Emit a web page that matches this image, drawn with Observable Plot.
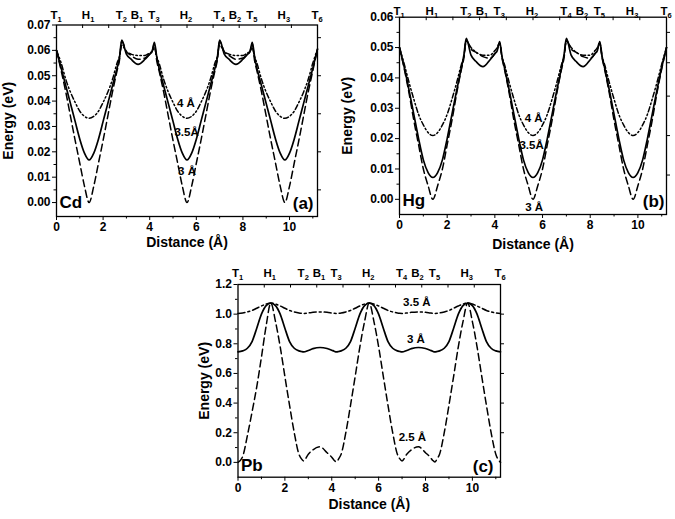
<!DOCTYPE html>
<html><head><meta charset="utf-8">
<script src="https://cdn.jsdelivr.net/npm/d3@7"></script>
<script src="https://cdn.jsdelivr.net/npm/@observablehq/plot@0.6"></script>
<style>
body{margin:0;background:#fff;}
#wrap{position:relative;width:675px;height:519px;overflow:hidden;background:#fff;}
.panel{position:absolute;}
</style></head><body><div id="wrap"></div>
<script>
// ---- data ----
const distance = [0,0.2,0.4,0.6,0.8,1.0,1.2,1.4,1.6,1.8,2.0,2.2,2.4,2.6,2.7,2.8,
  3.0,3.2,3.5,3.8,4.0,4.1,4.2,
  4.3,4.4,4.6,4.8,5.0,5.2,5.4,5.6,5.8,6.0,6.2,6.4,6.6,6.8,6.9,7.0,
  7.2,7.4,7.7,8.0,8.2,8.3,8.4,
  8.5,8.6,8.8,9.0,9.2,9.4,9.6,9.8,10.0,10.2,10.4,10.6,10.8,11.0,11.2];

const sitePos = [0,1.4,2.8,3.5,4.2,5.6,7.0,7.7,8.4,9.8,11.2];
const siteLetter = ["T","H","T","B","T","H","T","B","T","H","T"];
const siteIndex = ["1","1","2","1","3","2","4","2","5","3","6"];
const xTicks = [0,2,4,6,8,10];
const xMinorTicks = [1,3,5,7,9,11];
const topTicks = [1.12,2.24,3.36,4.48,5.6,6.72,7.84,8.96,10.08];

// Cd
const cdTicks = [0,0.01,0.02,0.03,0.04,0.05,0.06,0.07];
const cdMinor = [0.005,0.015,0.025,0.035,0.045,0.055,0.065];
const cdRight = [0.005,0.02,0.035,0.05,0.065];
const cd35 = [.0600,.0530,.0460,.0390,.0320,.0250,.0195,.0168,.0195,.0250,.0320,.0390,.0460,.0530,.0570,.0640,
  .0585,.0565,.0545,.0565,.0585,.0595,.0632,
  .0575,.0530,.0460,.0390,.0320,.0250,.0195,.0168,.0195,.0250,.0320,.0390,.0460,.0530,.0570,.0640,
  .0585,.0565,.0545,.0565,.0585,.0595,.0632,
  .0575,.0530,.0460,.0390,.0320,.0250,.0195,.0168,.0195,.0250,.0320,.0390,.0460,.0530,.0605];
const cd30 = [.0600,.0520,.0435,.0340,.0245,.0155,.0065,.0000,.0065,.0155,.0245,.0340,.0435,.0520,.0560,.0635,
  .0595,.0580,.0565,.0570,.0585,.0595,.0625,
  .0560,.0520,.0435,.0340,.0245,.0155,.0065,.0000,.0065,.0155,.0245,.0340,.0435,.0520,.0560,.0635,
  .0595,.0580,.0565,.0570,.0585,.0595,.0625,
  .0560,.0520,.0435,.0340,.0245,.0155,.0065,.0000,.0065,.0155,.0245,.0340,.0435,.0520,.0605];
const cd40 = [.0600,.0550,.0485,.0435,.0395,.0360,.0340,.0332,.0340,.0360,.0395,.0435,.0485,.0550,.0575,.0620,
  .0595,.0585,.0580,.0580,.0590,.0595,.0610,
  .0575,.0550,.0485,.0435,.0395,.0360,.0340,.0332,.0340,.0360,.0395,.0435,.0485,.0550,.0575,.0620,
  .0595,.0585,.0580,.0580,.0590,.0595,.0610,
  .0575,.0550,.0485,.0435,.0395,.0360,.0340,.0332,.0340,.0360,.0395,.0435,.0485,.0550,.0605];
const cdNoteText = ["4 Å","3.5Å","3 Å"];
const cdNoteX = [5.55,5.58,5.6];
const cdNoteY = [0.0377,0.0262,0.0108];

// Hg
const hgTicks = [0,0.01,0.02,0.03,0.04,0.05,0.06];
const hgMinor = [0.005,0.015,0.025,0.035,0.045,0.055];
const hgRight = [0.008,0.021,0.034,0.045,0.055];
const hg35 = [.0500,.0435,.0360,.0280,.0200,.0130,.0088,.0072,.0088,.0130,.0200,.0280,.0360,.0435,.0475,.0530,
  .0475,.0455,.0437,.0460,.0480,.0490,.0520,
  .0470,.0435,.0360,.0280,.0200,.0130,.0088,.0072,.0088,.0130,.0200,.0280,.0360,.0435,.0475,.0530,
  .0475,.0455,.0437,.0460,.0480,.0490,.0520,
  .0470,.0435,.0360,.0280,.0200,.0130,.0088,.0072,.0088,.0130,.0200,.0280,.0360,.0435,.0500];
const hg30 = [.0500,.0430,.0350,.0260,.0180,.0100,.0045,.0000,.0045,.0100,.0180,.0260,.0350,.0430,.0465,.0525,
  .0495,.0485,.0470,.0465,.0480,.0495,.0515,
  .0465,.0430,.0350,.0260,.0180,.0100,.0045,.0000,.0045,.0100,.0180,.0260,.0350,.0430,.0465,.0525,
  .0495,.0485,.0470,.0465,.0480,.0495,.0515,
  .0465,.0430,.0350,.0260,.0180,.0100,.0045,.0000,.0045,.0100,.0180,.0260,.0350,.0430,.0500];
const hg40 = [.0500,.0445,.0385,.0330,.0280,.0245,.0220,.0210,.0220,.0245,.0280,.0330,.0385,.0445,.0470,.0520,
  .0500,.0485,.0475,.0475,.0490,.0500,.0515,
  .0470,.0445,.0385,.0330,.0280,.0245,.0220,.0210,.0220,.0245,.0280,.0330,.0385,.0445,.0470,.0520,
  .0500,.0485,.0475,.0475,.0490,.0500,.0515,
  .0470,.0445,.0385,.0330,.0280,.0245,.0220,.0210,.0220,.0245,.0280,.0330,.0385,.0445,.0500];
const hgNoteText = ["4 Å","3.5Å","3 Å"];
const hgNoteX = [5.63,5.54,5.65];
const hgNoteY = [0.0254,0.0167,-0.0038];

// Pb
const pbTicks = [0,0.2,0.4,0.6,0.8,1.0,1.2];
const pbMinor = [0.1,0.3,0.5,0.7,0.9,1.1];
const pbRight = [0.2,0.4,0.6,0.8,1.0];
const pb25 = [0.00,0.04,0.18,0.34,0.51,0.71,0.92,1.075,0.95,0.78,0.58,0.385,0.20,0.055,0.025,0.01,
  0.055,0.085,0.105,0.065,0.035,0.015,0.003,
  0.025,0.055,0.20,0.385,0.58,0.78,0.95,1.075,0.95,0.78,0.58,0.385,0.20,0.055,0.025,0.01,
  0.055,0.085,0.105,0.065,0.035,0.015,0.003,
  0.025,0.055,0.20,0.385,0.58,0.78,0.95,1.075,0.95,0.78,0.58,0.385,0.20,0.055,0.00];
const pb30 = [0.745,0.752,0.770,0.815,0.905,1.000,1.058,1.075,1.058,1.000,0.905,0.815,0.770,0.752,0.748,0.745,
  0.755,0.767,0.775,0.768,0.757,0.750,0.745,
  0.748,0.752,0.770,0.815,0.905,1.000,1.058,1.075,1.058,1.000,0.905,0.815,0.770,0.752,0.748,0.745,
  0.755,0.767,0.775,0.768,0.757,0.750,0.745,
  0.748,0.752,0.770,0.815,0.905,1.000,1.058,1.075,1.058,1.000,0.905,0.815,0.770,0.752,0.745];
const pb35 = [1.005,1.008,1.015,1.025,1.040,1.055,1.068,1.075,1.068,1.055,1.040,1.025,1.015,1.008,1.006,1.005,
  1.008,1.012,1.015,1.012,1.008,1.006,1.005,
  1.006,1.008,1.015,1.025,1.040,1.055,1.068,1.075,1.068,1.055,1.040,1.025,1.015,1.008,1.006,1.005,
  1.008,1.012,1.015,1.012,1.008,1.006,1.005,
  1.006,1.008,1.015,1.025,1.040,1.055,1.068,1.075,1.068,1.055,1.040,1.025,1.015,1.008,1.005];
const pbNoteText = ["3.5 Å","3 Å","2.5 Å"];
const pbNoteX = [7.63,7.59,7.44];
const pbNoteY = [1.054,0.803,0.146];

// ---- drawing ----
const SOLID = null, DASH = "7,4", DASHDOT2 = "5,2.5,1.5,2.5,1.5,2.5", DASHDOT = "7,3,2,3";
const FONT = "'Liberation Sans', Arial, Helvetica, sans-serif";
const blank = () => "";

function panel(c) {
  const innerH = c.height - c.mt - c.mb;
  const rows = vals => distance.map((d, i) => ({x: d, y: vals[i]}));
  const marks = [
    Plot.axisX(xTicks, {tickSize: 4, tickPadding: 2, label: null, fontSize: 12}),
    Plot.axisX(xMinorTicks, {tickSize: 2.5, tickFormat: blank, label: null}),
    Plot.axisY(c.yTicks, {tickSize: 4, tickPadding: 2, tickFormat: c.yFormat, label: null, fontSize: 12}),
    Plot.axisY(c.yMinor, {tickSize: 2.5, tickFormat: blank, label: null}),
    Plot.axisY(c.rightTicks, {anchor: "right", tickSize: 3, tickFormat: blank, label: null}),
    Plot.ruleX(topTicks, {insetBottom: innerH - 3.5, stroke: "black", strokeWidth: 1}),
    ...c.series.map(s => Plot.line(rows(s.values), {
      x: "x", y: "y", stroke: "black", strokeWidth: s.w,
      strokeDasharray: s.dash, curve: "monotone-x"
    })),
    Plot.frame({stroke: "black", strokeWidth: 1.3}),
    Plot.text(sitePos, {x: d => d, text: (d, i) => siteLetter[i], frameAnchor: "top",
      textAnchor: "end", lineAnchor: "bottom", dx: 1, dy: -c.topGap, fontSize: 11.5}),
    Plot.text(sitePos, {x: d => d, text: (d, i) => siteIndex[i], frameAnchor: "top",
      textAnchor: "start", lineAnchor: "bottom", dx: 1, dy: -c.topGap + 3, fontSize: 7.5}),
    Plot.text(c.noteText, {x: (d, i) => c.noteX[i], y: (d, i) => c.noteY[i], text: d => d,
      lineAnchor: "bottom", fontSize: 11.5}),
    Plot.text([c.name], {frameAnchor: "bottom-left", dx: 3, dy: -c.nameDy, textAnchor: "start",
      lineAnchor: "bottom", fontSize: 17}),
    Plot.text([c.tag], {frameAnchor: "bottom-right", dx: -c.tagDx, dy: -c.tagDy, textAnchor: "end",
      lineAnchor: "bottom", fontSize: 17}),
    Plot.text(["Distance (Å)"], {frameAnchor: "bottom", dy: c.xTitleDy, textAnchor: "middle", lineAnchor: "middle", fontSize: 14}),
    Plot.text(["Energy (eV)"], {frameAnchor: "left", dx: c.yTitleDx, rotate: -90, textAnchor: "middle", lineAnchor: "middle", fontSize: 14})
  ];
  const svg = Plot.plot({
    width: c.width, height: c.height,
    marginLeft: c.ml, marginRight: c.mr, marginTop: c.mt, marginBottom: c.mb,
    x: {domain: [0, 11.2]},
    y: {domain: c.yDomain},
    style: {fontFamily: FONT, fontWeight: "bold", fontSize: "12px", color: "black", background: "transparent", overflow: "visible"},
    marks
  });
  svg.classList.add("panel");
  svg.style.left = c.left + "px";
  svg.style.top = c.top + "px";
  svg.style.position = "absolute";
  document.getElementById("wrap").appendChild(svg);
}

panel({
  left: 0, top: 0, width: 330, height: 255, ml: 56, mr: 13, mt: 24.5, mb: 39,
  yDomain: [-0.0055, 0.07], yTicks: cdTicks, yMinor: cdMinor, rightTicks: cdRight, yFormat: d3.format(".2f"),
  series: [{values: cd40, dash: DASHDOT2, w: 1.5}, {values: cd35, dash: SOLID, w: 1.7}, {values: cd30, dash: DASH, w: 1.5}],
  noteText: cdNoteText, noteX: cdNoteX, noteY: cdNoteY,
  name: "Cd", tag: "(a)", nameDy: 9, tagDx: 4, tagDy: 8, topGap: 6, xTitleDy: 26, yTitleDx: -48
});
panel({
  left: 340, top: 0, width: 335, height: 255, ml: 59, mr: 9, mt: 16.7, mb: 41,
  yDomain: [-0.005, 0.06], yTicks: hgTicks, yMinor: hgMinor, rightTicks: hgRight, yFormat: d3.format(".2f"),
  series: [{values: hg40, dash: DASHDOT2, w: 1.5}, {values: hg35, dash: SOLID, w: 1.7}, {values: hg30, dash: DASH, w: 1.5}],
  noteText: hgNoteText, noteX: hgNoteX, noteY: hgNoteY,
  name: "Hg", tag: "(b)", nameDy: 9, tagDx: 2, tagDy: 8, topGap: 2, xTitleDy: 30, yTitleDx: -52
});
panel({
  left: 170, top: 255, width: 345, height: 264, ml: 67.5, mr: 15, mt: 29, mb: 42.3,
  yDomain: [-0.1, 1.2], yTicks: pbTicks, yMinor: pbMinor, rightTicks: pbRight, yFormat: d3.format(".1f"),
  series: [{values: pb35, dash: DASHDOT, w: 1.5}, {values: pb30, dash: SOLID, w: 1.7}, {values: pb25, dash: DASH, w: 1.5}],
  noteText: pbNoteText, noteX: pbNoteX, noteY: pbNoteY,
  name: "Pb", tag: "(c)", nameDy: 6.5, tagDx: 7, tagDy: 5, topGap: 8, xTitleDy: 27, yTitleDx: -33
});
</script></body></html>
